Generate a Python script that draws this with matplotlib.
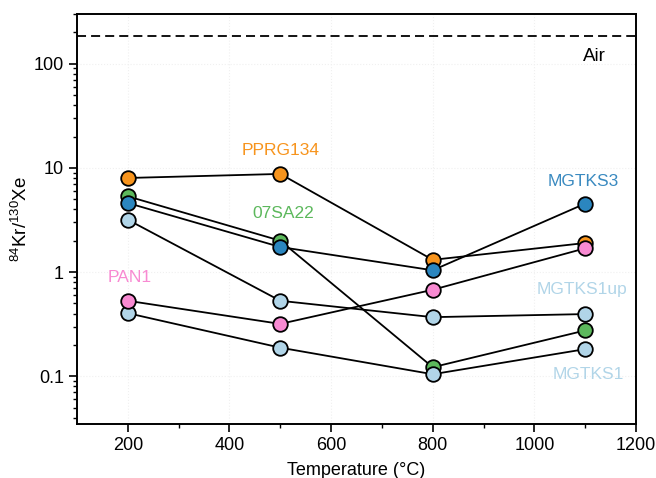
import matplotlib
matplotlib.use("Agg")
import matplotlib.pyplot as plt
from matplotlib.ticker import LogLocator, FixedLocator, NullFormatter, FuncFormatter

plt.rcParams['font.family'] = ['Liberation Sans', 'DejaVu Sans']
plt.rcParams['mathtext.default'] = 'regular'

temps = [200, 500, 800, 1100]
series_names = ["PPRG134", "07SA22", "MGTKS3", "MGTKS1up", "MGTKS1", "PAN1"]
pprg134 = [8.0, 8.75, 1.31, 1.90]
sa22 = [5.33, 2.0, 0.122, 0.275]
mgtks3 = [4.6, 1.74, 1.04, 4.54]
mgtks1up = [3.18, 0.53, 0.369, 0.395]
mgtks1 = [0.403, 0.188, 0.1045, 0.182]
pan1 = [0.53, 0.318, 0.676, 1.69]
air_ratio = 184

colors = {
    "PPRG134": "#F7941D",
    "07SA22": "#5CB85C",
    "MGTKS3": "#2B86BF",
    "MGTKS1up": "#B1D5E8",
    "MGTKS1": "#B1D5E8",
    "PAN1": "#F88AD2",
}
values = {
    "PPRG134": pprg134, "07SA22": sa22, "MGTKS3": mgtks3,
    "MGTKS1up": mgtks1up, "MGTKS1": mgtks1, "PAN1": pan1,
}

fig = plt.figure(figsize=(6.56, 4.78), dpi=100)
ax = fig.add_axes([0.1174, 0.113, 0.8521, 0.8577])

for name in series_names:
    ax.plot(temps, values[name], color='black', lw=1.3, zorder=2)
for name in series_names:
    ax.plot(temps, values[name], linestyle='none', marker='o', ms=10.5,
            mfc=colors[name], mec='black', mew=1.3, zorder=3)

ax.axhline(air_ratio, color='black', lw=1.3, dashes=(5, 2.8), zorder=2)

ax.set_yscale('log')
ax.set_xlim(100, 1200)
ax.set_ylim(0.0348, 300)

ax.xaxis.set_major_locator(FixedLocator([200, 400, 600, 800, 1000, 1200]))
ax.xaxis.set_minor_locator(FixedLocator([300, 500, 700, 900, 1100]))
ax.yaxis.set_major_locator(FixedLocator([0.1, 1, 10, 100]))
ax.yaxis.set_major_formatter(FuncFormatter(lambda v, p: {0.1: '0.1', 1: '1', 10: '10', 100: '100'}.get(v, '')))
ax.yaxis.set_minor_locator(LogLocator(base=10, subs=range(2, 10)))
ax.yaxis.set_minor_formatter(NullFormatter())

ax.tick_params(axis='both', which='major', direction='out', length=5.5, width=1.2,
               labelsize=13, colors='black', pad=4)
ax.tick_params(axis='both', which='minor', direction='out', length=3, width=1.0)
ax.tick_params(top=False, right=False, which='both')
for s in ax.spines.values():
    s.set_linewidth(1.4)

ax.grid(True, which='major', axis='both', color='#f0f0f0', lw=0.8, linestyle=':', zorder=0)

ax.set_xlabel('Temperature (°C)', fontsize=13, labelpad=5.5)
ax.set_ylabel('$^{84}$Kr/$^{130}$Xe', fontsize=13.5, labelpad=2)

ax.text(500, 14.7, 'PPRG134', color=colors["PPRG134"], fontsize=12.5, ha='center', va='center')
ax.text(506, 3.63, '07SA22', color=colors["07SA22"], fontsize=12.5, ha='center', va='center')
ax.text(1097, 7.38, 'MGTKS3', color="#3A8AC0", fontsize=12.5, ha='center', va='center')
ax.text(1093, 0.676, 'MGTKS1up', color=colors["MGTKS1up"], fontsize=12.5, ha='center', va='center')
ax.text(1107, 0.105, 'MGTKS1', color=colors["MGTKS1"], fontsize=12.5, ha='center', va='center')
ax.text(204, 0.88, 'PAN1', color=colors["PAN1"], fontsize=12.5, ha='center', va='center')
ax.text(1119, 118, 'Air', color='black', fontsize=13.5, ha='center', va='center')

fig.savefig('out.png', dpi=100)
